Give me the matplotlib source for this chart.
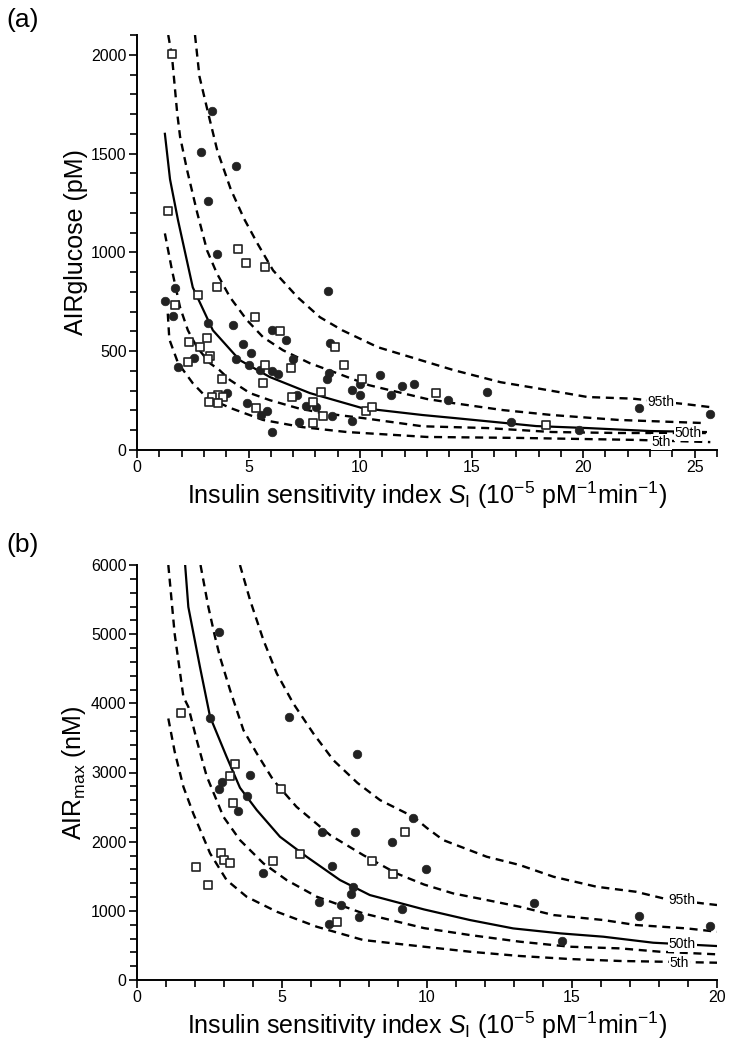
import matplotlib
matplotlib.use("Agg")
import matplotlib.pyplot as plt
from matplotlib.ticker import MultipleLocator

plt.rcParams['font.family'] = ['Liberation Sans', 'DejaVu Sans']
plt.rcParams['mathtext.fontset'] = 'custom'
plt.rcParams['mathtext.rm'] = 'Liberation Sans'
plt.rcParams['mathtext.it'] = 'Liberation Sans:italic'
plt.rcParams['mathtext.bf'] = 'Liberation Sans:bold'

# ---------------- Panel (a) data ----------------
a_p95_x = [2.6, 2.8, 3.2, 3.6, 4.2, 4.8, 5.4, 6.1, 7.2, 8.2, 9.2, 10.8, 13.0, 14.2, 16.3, 17.9, 20.2, 22.2, 24.6, 25.7]
a_p95_y = [2100, 1890, 1700, 1515, 1320, 1170, 1045, 909, 773, 672, 606, 520, 445, 404, 343, 313, 268, 260, 232, 217]
a_p75_x = [1.4, 1.57, 1.8, 1.93, 2.24, 2.7, 3.14, 3.58, 4.17, 4.93, 5.65, 6.54, 7.75, 8.96, 10.4, 13.0, 14.2, 16.4, 18.6, 21.6, 25.5]
a_p75_y = [2100, 1990, 1707, 1586, 1419, 1200, 1010, 894, 773, 657, 571, 505, 439, 389, 328, 258, 237, 202, 177, 152, 136]
a_p50_x = [1.25, 1.48, 1.84, 2.5, 3.4, 4.6, 5.96, 7.75, 10.1, 12.8, 14.2, 16.1, 17.9, 20.2, 23.0, 25.5]
a_p50_y = [1600, 1370, 1162, 823, 606, 455, 369, 288, 212, 177, 162, 141, 121, 111, 96, 91]
a_p25_x = [1.25, 1.57, 1.93, 2.28, 2.69, 3.27, 3.7, 4.17, 5.06, 5.96, 7.2, 8.3, 10.1, 12.8, 15.7, 18.6, 21.6, 25.5]
a_p25_y = [1096, 909, 722, 606, 520, 439, 404, 354, 288, 252, 212, 187, 162, 120, 111, 91, 86, 86]
a_p5_x = [1.38, 1.45, 1.84, 2.5, 3.1, 4.2, 5.65, 7.4, 9.4, 13.0, 17.2, 22.4, 25.7]
a_p5_y = [690, 560, 440, 338, 268, 212, 152, 116, 91, 66, 61, 51, 40]

a_circ_x = [3.35, 2.87, 4.42, 3.2, 3.6, 1.70, 8.54, 1.25, 1.63, 3.2, 4.32, 6.03, 6.68, 4.73, 8.65,
            5.11, 7.0, 2.57, 4.44, 1.85, 5.03, 5.51, 6.03, 6.3, 8.6, 8.51, 10.9, 9.99, 11.86, 12.4,
            9.62, 10.0, 11.4, 4.02, 7.15, 4.91, 7.57, 8.02, 5.81, 5.56, 8.72, 9.62, 7.27, 6.06,
            13.95, 15.67, 22.5, 25.7, 16.76, 19.8]
a_circ_y = [1717, 1510, 1439, 1259, 993, 822, 805, 753, 679, 645, 635, 609, 556, 535, 539,
            491, 458, 466, 458, 421, 429, 404, 401, 387, 392, 359, 379, 332, 323, 332,
            303, 278, 278, 290, 278, 236, 222, 216, 197, 177, 172, 146, 143, 93,
            252, 295, 214, 180, 143, 101]
a_sq_x = [1.55, 1.37, 4.54, 4.87, 5.73, 2.72, 3.6, 1.70, 5.29, 6.41, 3.12, 2.33, 8.88, 2.82, 3.27,
          3.17, 2.3, 9.27, 5.73, 6.91, 10.1, 5.66, 3.82, 8.27, 6.93, 3.62, 3.84, 3.35, 3.23, 3.61,
          7.87, 5.33, 8.35, 7.87, 10.25, 10.54, 13.4, 18.35]
a_sq_y = [2003, 1207, 1018, 948, 926, 783, 826, 732, 672, 601, 569, 547, 522, 522, 475,
          460, 446, 429, 429, 414, 359, 340, 359, 296, 269, 278, 269, 269, 244, 236,
          244, 214, 173, 135, 199, 216, 286, 126]

# ---------------- Panel (b) data ----------------
b_p95_x = [3.55, 3.9, 4.36, 4.82, 5.39, 6.08, 6.77, 7.6, 8.38, 9.53, 9.99, 10.56, 12.06, 13.2, 14.36, 15.85, 17.2, 18.15, 19.5, 20.0]
b_p95_y = [6000, 5491, 4913, 4432, 3998, 3565, 3179, 2850, 2601, 2360, 2200, 2023, 1782, 1662, 1493, 1348, 1276, 1180, 1108, 1084]
b_p75_x = [2.19, 2.46, 2.69, 2.86, 3.21, 3.67, 4.13, 4.7, 5.5, 6.66, 7.8, 8.95, 9.9, 10.9, 12.06, 13.2, 14.36, 16.08, 17.2, 18.96, 20.0]
b_p75_y = [6000, 5394, 4961, 4672, 4191, 3613, 3276, 2890, 2504, 2095, 1806, 1541, 1380, 1252, 1156, 1059, 939, 867, 795, 746, 698]
b_p50_x = [1.66, 1.77, 2.17, 2.52, 3.09, 3.55, 4.13, 4.93, 5.85, 7.0, 8.03, 9.9, 11.48, 12.97, 14.6, 16.08, 17.8, 20.0]
b_p50_y = [6000, 5394, 4528, 3805, 3227, 2780, 2457, 2071, 1782, 1445, 1228, 1020, 867, 746, 674, 626, 539, 491]
b_p25_x = [1.08, 1.3, 1.6, 1.77, 2.06, 2.4, 2.98, 3.55, 4.36, 5.16, 6.2, 7.8, 9.9, 11.48, 13.2, 14.93, 16.66, 18.03, 20.0]
b_p25_y = [6000, 5000, 4094, 3949, 3468, 2950, 2360, 2023, 1686, 1445, 1204, 963, 750, 650, 554, 481, 457, 409, 371]
b_p5_x = [1.08, 1.3, 1.6, 1.94, 2.52, 3.09, 3.78, 4.82, 6.2, 7.8, 9.9, 11.48, 13.2, 14.93, 16.66, 18.03, 20.0]
b_p5_y = [3781, 3300, 2793, 2408, 1831, 1445, 1204, 987, 770, 578, 481, 409, 347, 303, 275, 265, 250]

b_circ_x = [2.83, 2.52, 5.25, 7.59, 3.9, 2.92, 2.83, 3.78, 3.49, 9.53, 6.37, 7.53, 8.78, 6.72, 9.95,
            4.34, 7.46, 7.39, 6.29, 7.02, 9.13, 7.64, 6.61, 13.69, 14.67, 17.31, 19.76]
b_circ_y = [5029, 3781, 3805, 3271, 2962, 2866, 2760, 2659, 2447, 2346, 2143, 2143, 1990, 1652, 1609,
            1551, 1349, 1248, 1123, 1089, 1026, 915, 809, 1118, 559, 920, 785]
b_sq_x = [1.52, 3.37, 3.2, 4.97, 3.32, 9.24, 2.89, 3.0, 3.2, 4.7, 5.63, 8.11, 2.03, 8.84, 2.46, 6.89]
b_sq_y = [3854, 3116, 2952, 2760, 2553, 2143, 1840, 1734, 1686, 1720, 1825, 1720, 1629, 1528, 1378, 838]

pct_labels = ["95th", "50th", "5th"]
a_lab_x = [23.5, 24.7, 23.5]
a_lab_y = [242, 86, 40]
b_lab_x = [18.8, 18.8, 18.7]
b_lab_y = [1156, 520, 246]

# ---------------- Figure ----------------
W, H = 737, 1050
fig = plt.figure(figsize=(W / 100, H / 100), dpi=100)
ax1 = fig.add_axes([137 / W, 1 - 450 / H, 580 / W, 415 / H])
ax2 = fig.add_axes([137 / W, 1 - 980 / H, 580 / W, 415 / H])

dash = (0, (3.4, 2.4))
lw_d = 1.7
lw_s = 1.6


def style(ax, xmax, ymax, xmaj, ymaj, xmin, ymin):
    ax.set_xlim(0, xmax)
    ax.set_ylim(0, ymax)
    for s in ["top", "right"]:
        ax.spines[s].set_visible(False)
    for s in ["left", "bottom"]:
        ax.spines[s].set_linewidth(1.4)
    ax.xaxis.set_major_locator(MultipleLocator(xmaj))
    ax.xaxis.set_minor_locator(MultipleLocator(xmin))
    ax.yaxis.set_major_locator(MultipleLocator(ymaj))
    ax.yaxis.set_minor_locator(MultipleLocator(ymin))
    ax.tick_params(which="both", direction="out", length=5.5, width=1.2, labelsize=11.5, pad=2)
    ax.tick_params(which="minor", length=5)


def draw(ax, curves, circ, sq, labs):
    for (x, y, st) in curves:
        if st == "solid":
            ax.plot(x, y, color="black", lw=lw_s, zorder=2, clip_on=True)
        else:
            ax.plot(x, y, color="black", lw=lw_d, linestyle=dash, zorder=2, clip_on=True)
    ax.scatter(circ[0], circ[1], s=38, marker="o", facecolor="#222222", edgecolor="#222222",
               linewidths=0.5, zorder=3, clip_on=False)
    ax.scatter(sq[0], sq[1], s=36, marker="s", facecolor="white", edgecolor="#222222",
               linewidths=1.2, zorder=3, clip_on=False)
    for t, lx, ly in zip(pct_labels, labs[0], labs[1]):
        ax.text(lx, ly, t, fontsize=10, ha="center", va="center", zorder=4,
                bbox=dict(facecolor="white", edgecolor="none", pad=0.6))


style(ax1, 26, 2100, 5, 500, 1, 100)
draw(ax1, [(a_p95_x, a_p95_y, "d"), (a_p75_x, a_p75_y, "d"), (a_p50_x, a_p50_y, "solid"),
           (a_p25_x, a_p25_y, "d"), (a_p5_x, a_p5_y, "d")],
     (a_circ_x, a_circ_y), (a_sq_x, a_sq_y), (a_lab_x, a_lab_y))

style(ax2, 20, 6000, 5, 1000, 1, 200)
draw(ax2, [(b_p95_x, b_p95_y, "d"), (b_p75_x, b_p75_y, "d"), (b_p50_x, b_p50_y, "solid"),
           (b_p25_x, b_p25_y, "d"), (b_p5_x, b_p5_y, "d")],
     (b_circ_x, b_circ_y), (b_sq_x, b_sq_y), (b_lab_x, b_lab_y))

xlab = r"Insulin sensitivity index $S_{\rm I}$ (10$^{-5}$ pM$^{-1}$min$^{-1}$)"
ax1.set_xlabel(xlab, fontsize=18, labelpad=3)
ax2.set_xlabel(xlab, fontsize=18, labelpad=3)
ax1.set_ylabel("AIRglucose (pM)", fontsize=18)
ax2.set_ylabel(r"AIR$_{\rm max}$ (nM)", fontsize=18)
ax1.yaxis.set_label_coords(-0.085, 0.5)
ax2.yaxis.set_label_coords(-0.085, 0.5)

fig.text(6 / W, 1 - 20 / H, "(a)", fontsize=19, va="center", ha="left")
fig.text(6 / W, 1 - 545 / H, "(b)", fontsize=19, va="center", ha="left")

fig.savefig("out.png", dpi=100)
